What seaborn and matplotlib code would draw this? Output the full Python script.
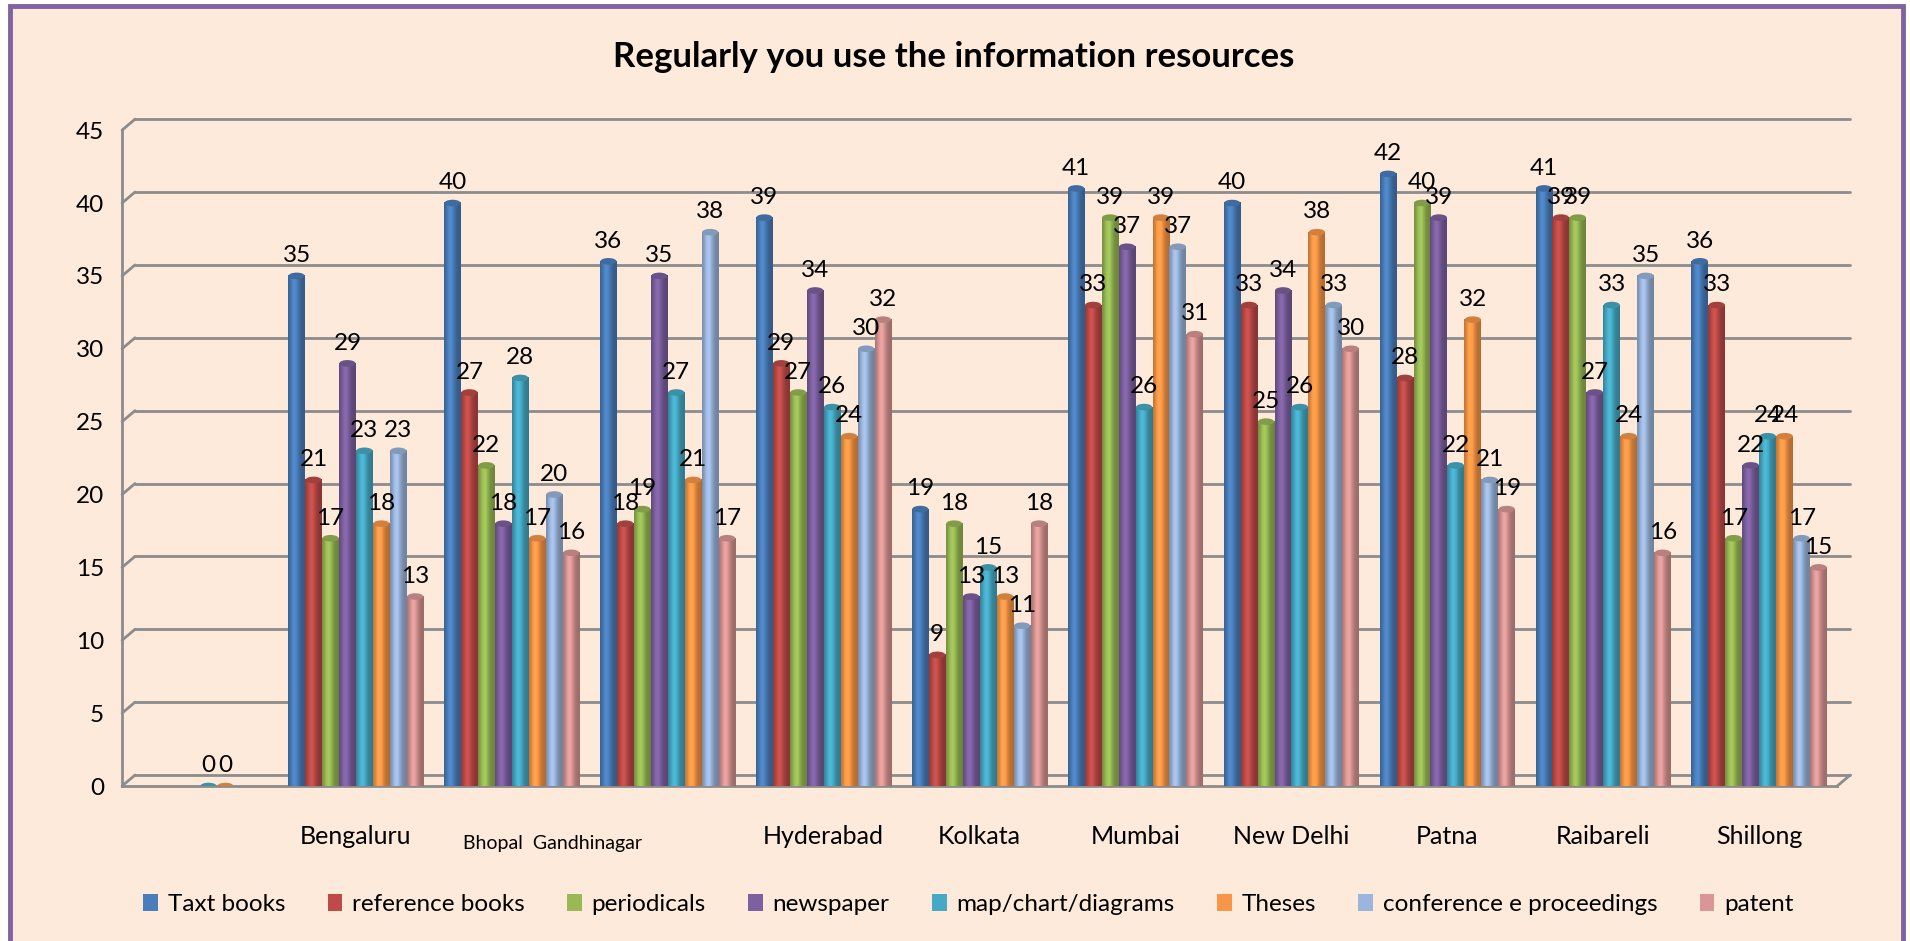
import numpy as np
import pandas as pd
import matplotlib
matplotlib.use("Agg")
import matplotlib.pyplot as plt
import seaborn as sns
import matplotlib.transforms as mtransforms
from matplotlib.colors import to_rgb
from matplotlib.patches import Rectangle, Ellipse

# ---------------- data ----------------
categories = ["", "Bengaluru", "Bhopal  Gandhinagar", " ", "Hyderabad", "Kolkata",
              "Mumbai", "New Delhi", "Patna", "Raibareli", "Shillong"]
series = ["Taxt books", "reference books", "periodicals", "newspaper",
          "map/chart/diagrams", "Theses", "conference e proceedings", "patent"]
nan = np.nan
taxt_books      = [nan, 35, 40, 36, 39, 19, 41, 40, 42, 41, 36]
reference_books = [nan, 21, 27, 18, 29,  9, 33, 33, 28, 39, 33]
periodicals     = [nan, 17, 22, 19, 27, 18, 39, 25, 40, 39, 17]
newspaper       = [nan, 29, 18, 35, 34, 13, 37, 34, 39, 27, 22]
map_chart       = [0,   23, 28, 27, 26, 15, 26, 26, 22, 33, 24]
theses          = [0,   18, 17, 21, 24, 13, 39, 38, 32, 24, 24]
conference      = [nan, 23, 20, 38, 30, 11, 37, 33, 21, 35, 17]
patent          = [nan, 13, 16, 17, 32, 18, 31, 30, 19, 16, 15]
yticks = [0, 5, 10, 15, 20, 25, 30, 35, 40, 45]

colors = ["#4A7EBB", "#BE4B48", "#98B954", "#7D60A0",
          "#46AAC5", "#F79646", "#9BB5DC", "#D99694"]

values = [taxt_books, reference_books, periodicals, newspaper,
          map_chart, theses, conference, patent]
rows = []
for s, vals in zip(series, values):
    for c, v in zip(categories, vals):
        rows.append({"city": c, "resource": s, "count": v})
df = pd.DataFrame(rows).dropna()

# ---------------- style ----------------
sns.set_style("white")
plt.rcParams["font.family"] = ["Lato", "DejaVu Sans"]
plt.rcParams["text.color"] = "black"
plt.rcParams["xtick.color"] = "black"
plt.rcParams["ytick.color"] = "black"
plt.rcParams["xtick.labelcolor"] = "black"
plt.rcParams["ytick.labelcolor"] = "black"

fig = plt.figure(figsize=(19.1, 9.41), dpi=100)
fig.patch.set_facecolor("white")
fig.patches.append(Rectangle((0.0052, -0.01), 0.991, 1.0036, transform=fig.transFigure,
                             facecolor="#FDEADA", edgecolor="#8064A2", lw=3.5, zorder=-10))

ax = fig.add_axes([0.0639, 0.1647, 0.898, 0.697])
ax.set_facecolor("none")

sns.barplot(data=df, x="city", y="count", hue="resource", order=categories,
            hue_order=series, palette=colors, width=0.87, saturation=1,
            errorbar=None, legend=False, linewidth=0, ax=ax, zorder=3)

# cylinder shading
for patch in list(ax.patches):
    h = patch.get_height()
    if not np.isfinite(h):
        continue
    x0, w = patch.get_x(), patch.get_width()
    base = np.array(to_rgb(patch.get_facecolor()))
    t = np.linspace(0, 1, 64)
    shade = 0.72 + 0.38 * np.exp(-((t - 0.38) / 0.28) ** 2)
    row = np.clip(base[None, :] * shade[:, None], 0, 1)
    if h > 0:
        ax.imshow(row[None, :, :], extent=[x0, x0 + w, 0, h], aspect="auto",
                  interpolation="bilinear", zorder=3.1)
    cap = np.clip(base * 0.85, 0, 1)
    ax.add_patch(Ellipse((x0 + w / 2, h), w * 0.95, 0.45, facecolor=cap,
                         edgecolor="none", zorder=3.2))

ax.set_xlim(-0.5, len(categories) - 0.5)
ax.set_ylim(0, 45)

# data labels
for cont in ax.containers:
    labels = ["" if not np.isfinite(b.get_height()) else f"{b.get_height():.0f}" for b in cont]
    ax.bar_label(cont, labels=labels, padding=7, fontsize=17.5, color="black", zorder=5)

# 3D-like grid (back wall)
gcol = "#8C8C8C"
off = mtransforms.offset_copy(ax.transData, fig=fig, x=13, y=11, units="dots")
xmin, xmax = -0.5, len(categories) - 0.5
for yv in yticks:
    ax.plot([xmin, xmax], [yv, yv], color=gcol, lw=2, transform=off, zorder=1, clip_on=False)
    ax.annotate("", xy=(xmin, yv), xytext=(13, 11), textcoords="offset pixels",
                arrowprops=dict(arrowstyle="-", color=gcol, lw=2, shrinkA=0, shrinkB=0),
                zorder=1, annotation_clip=False)
ax.annotate("", xy=(xmax, 0), xytext=(13, 11), textcoords="offset pixels",
            arrowprops=dict(arrowstyle="-", color=gcol, lw=2, shrinkA=0, shrinkB=0),
            zorder=1, annotation_clip=False)

for sp in ["top", "right"]:
    ax.spines[sp].set_visible(False)
for sp in ["left", "bottom"]:
    ax.spines[sp].set_color(gcol)
    ax.spines[sp].set_linewidth(2)

ax.set_yticks(yticks)
ax.tick_params(axis="y", length=5, width=2, color=gcol, labelcolor="black",
               direction="out", labelsize=17.5, pad=8)
ax.set_xticks(range(len(categories)))
xlabels = [c if c != "Bhopal  Gandhinagar" else "" for c in categories]
ax.set_xticklabels(xlabels)
ax.set_xticks(np.arange(-0.5, len(categories), 1.0), minor=True)
ax.tick_params(axis="x", which="major", length=0, labelsize=18, pad=28, labelcolor="black")
ax.tick_params(axis="x", which="minor", length=7, width=2, color=gcol, direction="out")
ax.text(categories.index("Bhopal  Gandhinagar") + 0.26, -0.088, "Bhopal  Gandhinagar",
        transform=mtransforms.blended_transform_factory(ax.transData, ax.transAxes),
        ha="center", va="center", fontsize=14, color="black")
ax.set_xlabel("")
ax.set_ylabel("")

fig.text(0.4995, 0.939, "Regularly you use the information resources",
         ha="center", va="center", fontsize=25, fontweight="bold", color="black")

handles = [Rectangle((0, 0), 1, 1, facecolor=c, edgecolor="none") for c in colors]
fig.legend(handles, series, loc="center", bbox_to_anchor=(0.507, 0.039), ncol=8,
           frameon=False, fontsize=17.5, handlelength=0.6, handleheight=0.7,
           handletextpad=0.4, columnspacing=1.75, labelcolor="black")

fig.savefig("out.png", dpi=100, facecolor=fig.get_facecolor())
